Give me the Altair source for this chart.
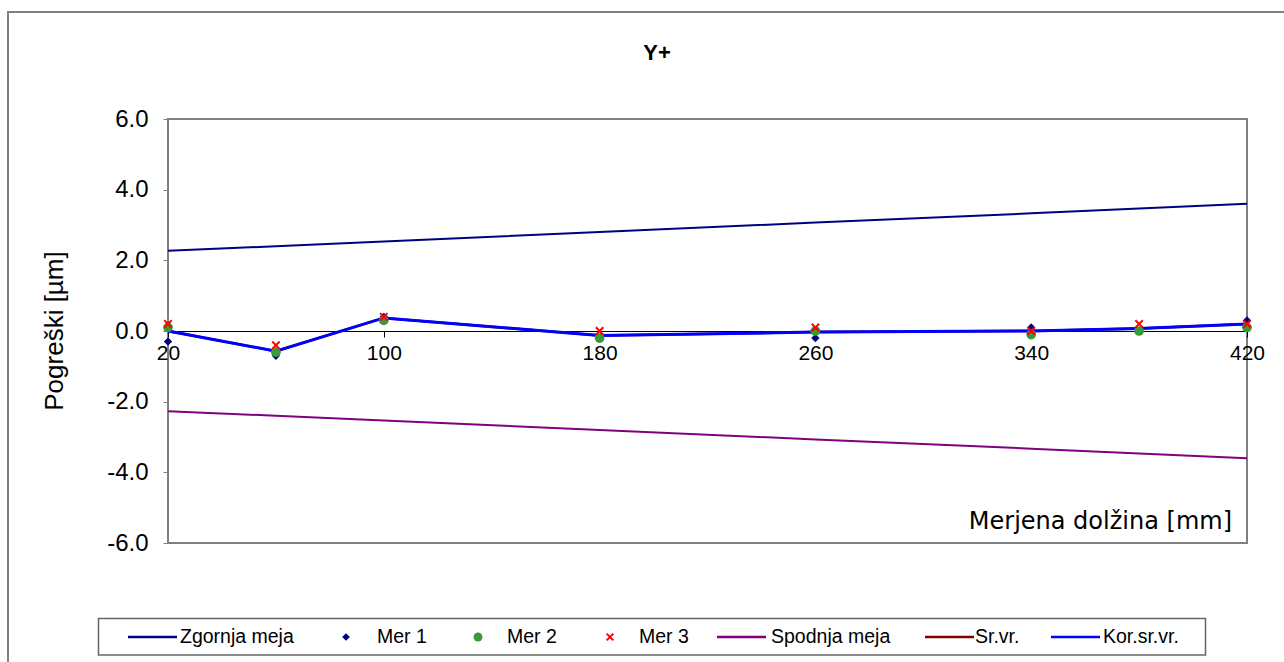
import altair as alt
import pandas as pd

# Measured lengths [mm]
lengths = [20, 60, 100, 180, 260, 340, 380, 420]

# Tolerance limits [µm]
upper_limit = [2.27, 2.40, 2.53, 2.80, 3.07, 3.33, 3.47, 3.60]
lower_limit = [-2.27, -2.40, -2.53, -2.80, -3.07, -3.33, -3.47, -3.60]

# Three measurement runs [µm]
mer1 = [-0.3, -0.7, 0.4, -0.2, -0.2, 0.1, 0.0, 0.3]
mer2 = [0.1, -0.6, 0.3, -0.2, 0.0, -0.1, 0.0, 0.1]
mer3 = [0.2, -0.4, 0.4, 0.0, 0.1, 0.0, 0.2, 0.2]

# Mean and corrected mean [µm]
sr_vr = [0.00, -0.57, 0.37, -0.13, -0.03, 0.00, 0.07, 0.20]
kor_sr_vr = [0.00, -0.57, 0.37, -0.13, -0.03, 0.00, 0.07, 0.20]

x_ticks = [20, 100, 180, 260, 340, 420]
y_ticks = [-6, -4, -2, 0, 2, 4, 6]

C_UPPER = "#000080"
C_MER1 = "#000080"
C_MER2 = "#3a9a3a"
C_MER3 = "#ff0000"
C_LOWER = "#800080"
C_SR = "#800000"
C_KOR = "#0000ff"
X_PATH = "M-1,-1L1,1M-1,1L1,-1"

W, H = 1079, 424
FONT = "Liberation Sans"

x_scale = alt.Scale(domain=[20, 420], nice=False, zero=False)
y_scale = alt.Scale(domain=[-6, 6], nice=False)

x_axis = alt.Axis(values=x_ticks, offset=-H / 2, domainColor="black", domainWidth=1,
                  tickColor="black", tickSize=6, labelFontSize=21, labelFont=FONT,
                  labelColor="black", labelPadding=5, labelFlush=False,
                  labelOverlap=False, grid=False, title=None)
y_axis = alt.Axis(values=y_ticks, domain=False, tickColor="#808080",
                  labelExpr="replace(format(datum.value, '.1f'), '\u2212', '-')",
                  tickSize=5, labelFontSize=24, labelFont=FONT, labelColor="black",
                  labelPadding=15, grid=False, title=None)

X_ENC = alt.X("L:Q", scale=x_scale, axis=x_axis)
Y_ENC = alt.Y("v:Q", scale=y_scale, axis=y_axis)


def frame(values):
    return pd.DataFrame({"L": lengths, "v": values})


def line_layer(values, color, width):
    return alt.Chart(frame(values)).mark_line(color=color, strokeWidth=width).encode(
        x=X_ENC, y=Y_ENC)


def point_layer(values, **mark):
    return alt.Chart(frame(values)).mark_point(**mark).encode(x=X_ENC, y=Y_ENC)


one = pd.DataFrame({"k": [0]})


def deco_text(text, x, y, size, align="left", angle=0, weight="normal",
              font=FONT, baseline="middle"):
    mark = dict(text=text, fontSize=size, font=font, align=align,
                baseline=baseline, color="black", fontWeight=weight)
    if angle:
        mark["angle"] = angle
    return alt.Chart(one).mark_text(**mark).encode(x=alt.value(x), y=alt.value(y))


# Outer chart frame and legend box
outer = alt.Chart(one).mark_rect(fillOpacity=0, stroke="#808080", strokeWidth=2).encode(
    x=alt.value(8 - 168), y=alt.value(12 - 119),
    x2=alt.value(1320 - 168), y2=alt.value(700 - 119))
legend_box = alt.Chart(one).mark_rect(fill="white", stroke="#666666", strokeWidth=1.5).encode(
    x=alt.value(98.5 - 168), y=alt.value(618.5 - 119),
    x2=alt.value(1205.5 - 168), y2=alt.value(655 - 119))

layers = [
    line_layer(upper_limit, C_UPPER, 2),
    line_layer(lower_limit, C_LOWER, 2),
    line_layer(sr_vr, C_SR, 2.5),
    line_layer(kor_sr_vr, C_KOR, 3),
    point_layer(mer1, shape="diamond", filled=True, color=C_MER1, size=70, opacity=1),
    point_layer(mer2, shape="circle", filled=True, color=C_MER2, size=95, opacity=1),
    point_layer(mer3, shape=X_PATH, filled=False, color=C_MER3, size=55,
                strokeWidth=2, opacity=1),
    outer,
    deco_text("Y+", 657 - 168, 53 - 119, 22, align="center", weight="bold"),
    deco_text("Pogreški [µm]", 63 - 168, H / 2, 26, align="center", angle=270,
              baseline="alphabetic"),
    deco_text("Merjena dolžina [mm]", 1232 - 168, 529 - 119, 24, align="right",
              font="DejaVu Sans", baseline="alphabetic"),
    legend_box,
]

# Legend entries: (label, kind, colour, symbol start, label start)
legend_y = 637 - 119
legend_entries = [
    ("Zgornja meja", "line", C_UPPER, 128, 180),
    ("Mer 1", "diamond", C_MER1, 346, 377),
    ("Mer 2", "circle", C_MER2, 478, 507),
    ("Mer 3", "x", C_MER3, 610, 639),
    ("Spodnja  meja", "line", C_LOWER, 717, 771),
    ("Sr.vr.", "line", C_SR, 925, 975),
    ("Kor.sr.vr.", "line", C_KOR, 1051, 1103),
]
for label, kind, color, sx, tx in legend_entries:
    if kind == "line":
        layers.append(alt.Chart(one).mark_rule(color=color, strokeWidth=2.5).encode(
            x=alt.value(sx - 168), x2=alt.value(sx + 49 - 168), y=alt.value(legend_y)))
    elif kind == "diamond":
        layers.append(alt.Chart(one).mark_point(shape="diamond", filled=True, color=color,
                                                size=60, opacity=1).encode(
            x=alt.value(sx - 168), y=alt.value(legend_y)))
    elif kind == "circle":
        layers.append(alt.Chart(one).mark_point(shape="circle", filled=True, color=color,
                                                size=80, opacity=1).encode(
            x=alt.value(sx - 168), y=alt.value(legend_y)))
    else:
        layers.append(alt.Chart(one).mark_point(shape=X_PATH, filled=False, color=color,
                                                size=45, strokeWidth=2, opacity=1).encode(
            x=alt.value(sx - 168), y=alt.value(legend_y)))
    layers.append(deco_text(label, tx - 168, legend_y, 19.5))

chart = alt.layer(*layers).properties(
    width=W, height=H,
    autosize=alt.AutoSizeParams(type="none"),
    padding={"left": 168, "top": 119, "right": 37, "bottom": 119},
    background="white",
).configure_view(stroke="#808080", strokeWidth=2)

chart.save("out.html", embed_options={"renderer": "svg", "actions": False})
